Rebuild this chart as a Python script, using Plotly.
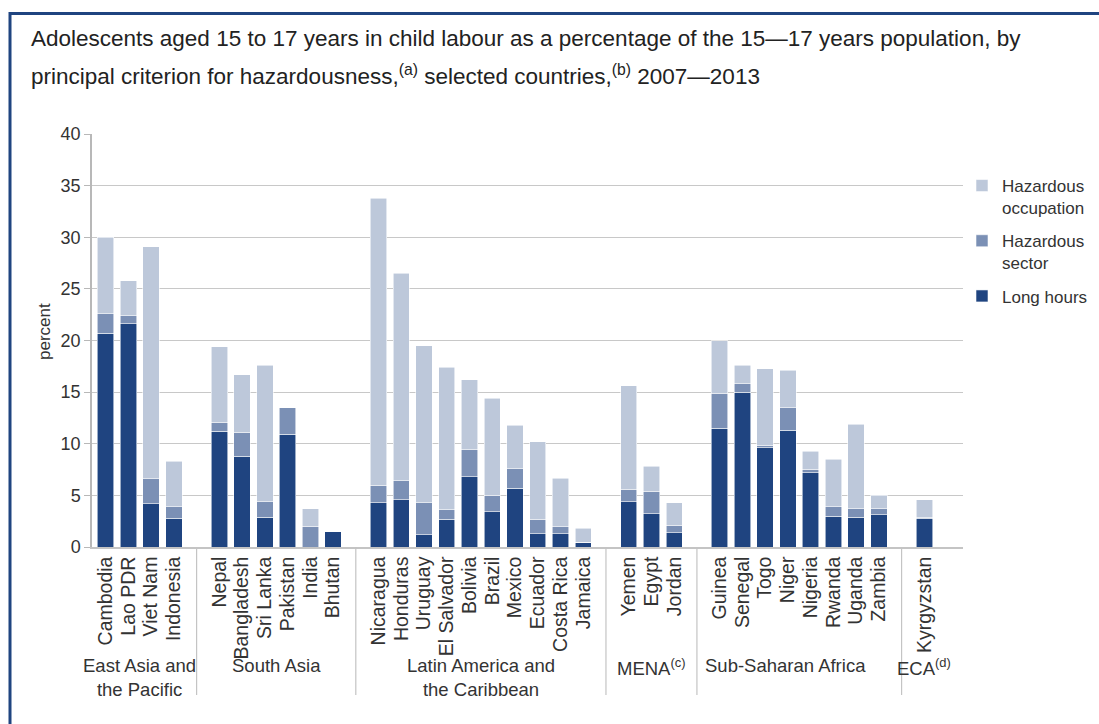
import plotly.graph_objects as go

# ---- data ----
group_names = ["East Asia and<br>the Pacific", "South Asia", "Latin America and<br>the Caribbean",
               "MENA<sup>(c)</sup>", "Sub-Saharan Africa", "ECA<sup>(d)</sup>"]
group_countries = [
    ["Cambodia", "Lao PDR", "Viet Nam", "Indonesia"],
    ["Nepal", "Bangladesh", "Sri Lanka", "Pakistan", "India", "Bhutan"],
    ["Nicaragua", "Honduras", "Uruguay", "El Salvador", "Bolivia", "Brazil", "Mexico",
     "Ecuador", "Costa Rica", "Jamaica"],
    ["Yemen", "Egypt", "Jordan"],
    ["Guinea", "Senegal", "Togo", "Niger", "Nigeria", "Rwanda", "Uganda", "Zambia"],
    ["Kyrgyzstan"],
]
long_hours = [20.7, 21.6, 4.2, 2.8,
              11.2, 8.8, 2.9, 10.9, 0.0, 1.5,
              4.3, 4.6, 1.2, 2.7, 6.8, 3.4, 5.7, 1.3, 1.3, 0.45,
              4.4, 3.2, 1.4,
              11.5, 15.0, 9.6, 11.3, 7.2, 3.0, 2.9, 3.1,
              2.8]
hazardous_sector = [1.9, 0.8, 2.4, 1.1,
                    0.9, 2.3, 1.5, 2.6, 2.0, 0.0,
                    1.7, 1.8, 3.1, 0.9, 2.6, 1.6, 1.9, 1.4, 0.65, 0.0,
                    1.2, 2.2, 0.7,
                    3.4, 0.8, 0.25, 2.2, 0.35, 0.9, 0.8, 0.6,
                    0.1]
hazardous_occupation = [7.4, 3.4, 22.5, 4.4,
                        7.3, 5.6, 13.2, 0.0, 1.7, 0.0,
                        27.8, 20.1, 15.2, 13.8, 6.8, 9.4, 4.2, 7.5, 4.7, 1.35,
                        10.0, 2.4, 2.2,
                        5.1, 1.8, 7.4, 3.6, 1.7, 4.6, 8.2, 1.3,
                        1.7]
y_ticks = [0, 5, 10, 15, 20, 25, 30, 35, 40]

# ---- positions: one empty slot between groups ----
positions, names, group_centers, dividers = [], [], [], []
slot = 0
for gi, cs in enumerate(group_countries):
    start = slot
    for c in cs:
        positions.append(slot)
        names.append(c)
        slot += 1
    group_centers.append((start + slot - 1) / 2)
    if gi < len(group_countries) - 1:
        dividers.append(slot)
        slot += 1

xmin, xmax = -0.6, 37.7
def xp(v):
    return (v - xmin) / (xmax - xmin)

C_DARK = "#1F4480"
C_MID = "#7B90B5"
C_LIGHT = "#BDC8DA"

fig = go.Figure()
for nm, vals, col, rank in [("Long hours", long_hours, C_DARK, 3),
                            ("Hazardous<br>sector", hazardous_sector, C_MID, 2),
                            ("Hazardous<br>occupation", hazardous_occupation, C_LIGHT, 1)]:
    fig.add_trace(go.Bar(x=positions, y=vals, name=nm, width=0.72, legendgroup="g%d" % rank,
                         legendrank=rank,
                         marker=dict(color=col, line=dict(color="rgba(255,255,255,0.7)", width=0.8))))

FONT = "Liberation Sans, Arial, sans-serif"
TXT = "#333333"

annotations = [
    dict(text="Adolescents aged 15 to 17 years in child labour as a percentage of the 15\u201417 years population, by",
         xref="paper", yref="paper", x=(29 - 92) / 871, y=(547 - 38) / 413, xanchor="left", yanchor="middle",
         showarrow=False, font=dict(size=22.5, color="#222222", family=FONT)),
    dict(text="principal criterion for hazardousness,<sup>(a)</sup> selected countries,<sup>(b)</sup> 2007\u20142013",
         xref="paper", yref="paper", x=(29 - 92) / 871, y=(547 - 75) / 413, xanchor="left", yanchor="middle",
         showarrow=False, font=dict(size=22.5, color="#222222", family=FONT)),
    dict(text="percent", xref="paper", yref="paper", x=(44 - 92) / 871, y=(547 - 332) / 413,
         textangle=-90, showarrow=False, xanchor="center", yanchor="middle",
         font=dict(size=17, color=TXT, family=FONT)),
]
label_x = list(group_centers)
label_x[4] = 29.9
for gname, gx in zip(group_names, label_x):
    annotations.append(dict(text=gname, xref="paper", yref="paper", x=xp(gx), y=(547 - 653) / 413,
                            xanchor="center", yanchor="top", showarrow=False,
                            font=dict(size=18.5, color=TXT, family=FONT)))

shapes = [
    dict(type="line", xref="paper", yref="paper", x0=(9 - 92) / 871, x1=(1100 - 92) / 871,
         y0=(547 - 13.5) / 413, y1=(547 - 13.5) / 413, line=dict(color=C_DARK, width=3)),
    dict(type="line", xref="paper", yref="paper", x0=(10 - 92) / 871, x1=(10 - 92) / 871,
         y0=(547 - 12) / 413, y1=(547 - 730) / 413, line=dict(color=C_DARK, width=3)),
]
for d in dividers:
    shapes.append(dict(type="line", xref="paper", yref="paper", x0=xp(d), x1=xp(d),
                       y0=0, y1=(547 - 695) / 413, line=dict(color="#c4c4c4", width=1.2)))

fig.update_layout(
    width=1099, height=724,
    margin=dict(l=92, r=136, t=134, b=177, autoexpand=False),
    barmode="stack",
    plot_bgcolor="white", paper_bgcolor="white",
    font=dict(family=FONT, color=TXT, size=17),
    showlegend=True,
    legend=dict(x=(962 - 92) / 871, y=(547 - 168) / 413, xanchor="left", yanchor="top",
                traceorder="grouped", tracegroupgap=8, valign="top",
                font=dict(size=17, color=TXT, family=FONT), bgcolor="rgba(0,0,0,0)",
                itemwidth=30),
    xaxis=dict(range=[xmin, xmax], tickmode="array", tickvals=positions, ticktext=names,
               tickangle=-90, showgrid=False, zeroline=False, showline=True, linecolor="#c4c4c4",
               linewidth=1.5, ticks="", tickfont=dict(size=19.5, color=TXT, family=FONT)),
    yaxis=dict(range=[0, 40], tickmode="array", tickvals=y_ticks, showgrid=True, gridcolor="#c8c8c8",
               gridwidth=1.2, zeroline=False, showline=True, linecolor="#b8b8b8", linewidth=1.5,
               ticks="outside", ticklen=6, tickcolor="#b8b8b8",
               tickfont=dict(size=18, color=TXT, family=FONT)),
    annotations=annotations,
    shapes=shapes,
)

fig.write_html("out.html", config={"displayModeBar": False},
               post_script="document.body.style.margin='0px';")
